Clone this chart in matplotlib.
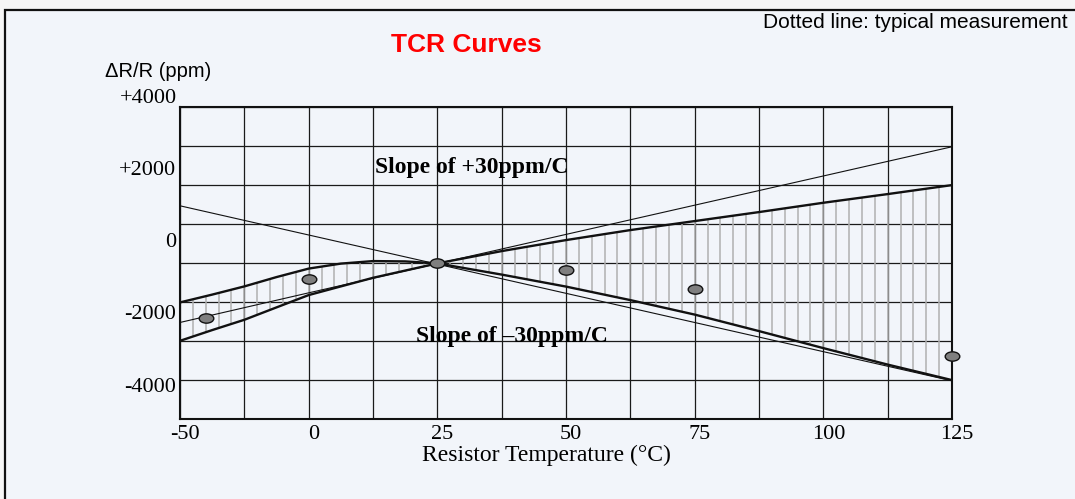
import numpy as np
import matplotlib
matplotlib.use("Agg")
import matplotlib.pyplot as plt
from matplotlib.path import Path
from matplotlib.transforms import Affine2D, ScaledTranslation
from matplotlib.patches import Rectangle

# ---------------- data ----------------
temps = [-50, -37.5, -25, -12.5, 0, 6.25, 12.5, 18.75, 25, 37.5, 50, 62.5,
         75, 87.5, 100, 112.5, 125]
curve_a = [-1725, -1509, -1282, -1024, -789, -651, -581, -590, -645, -955,
           -1287, -1661, -2062, -2519, -2990, -3446, -3875]
curve_b = [-2788, -2491, -2206, -1863, -1522, -1282, -1044, -844, -645, -305,
           0, 277, 526, 775, 1033, 1273, 1522]

slope_t = [-50, 0, 125]
slope_pos = [-2280, -1460, 2583]
slope_neg = [949, 141, -3895]

meas_t = [-40, 0, 25, 50, 75, 125]
meas_ppm = [-2150, -1088, -645, -830, -1366, -3202]

xtick_vals = [-50, 0, 25, 50, 75, 100, 125]
ytick_vals = [2000, 0, -2000, -4000]
ytick_labels = ["+2000", "0", "-2000", "-4000"]
top_label_val = 4000
top_label = "+4000"

# ---------------- axis scale (piecewise linear temperature axis) ----------------
def fwd(t):
    t = np.asarray(t, dtype=float)
    return np.where(t < 0, (t + 50) / 25.0, 2 + t / 12.5)

def inv(p):
    p = np.asarray(p, dtype=float)
    return np.where(p < 2, p * 25.0 - 50, (p - 2) * 12.5)

W, H = 1075, 499
BG = "#f2f5fa"
fig = plt.figure(figsize=(W / 100, H / 100), dpi=100)
fig.patch.set_facecolor("#f6f6f6")
frame = Rectangle((5 / W, -0.02), 1.05, 1 - 10 / H + 0.02, transform=fig.transFigure,
                  facecolor=BG, edgecolor="#111111", linewidth=1.6, zorder=-5)
fig.add_artist(frame)

L, R, B, T = 180, 952, 419.3, 107.3
ax = fig.add_axes([L / W, 1 - B / H, (R - L) / W, (B - T) / H])
ax.set_facecolor(BG)
ax.set_xscale("function", functions=(fwd, inv))
ax.set_xlim(-50, 125)
ax.set_ylim(-4960, 3675)

SERIF = "Liberation Serif"
SANS = "Liberation Sans"

# grid: 12 columns x 8 rows
ax.xaxis.remove_overlapping_locs = False
ax.yaxis.remove_overlapping_locs = False
ax.set_xticks(inv(np.arange(13)), minor=True)
ax.set_yticks(np.linspace(-4960, 3675, 9), minor=True)
ax.grid(which="minor", color="#1a1a1a", linewidth=0.9)
ax.grid(which="major", visible=False)
ax.tick_params(which="both", length=0)
ax.set_axisbelow(True)

ax.set_xticks(xtick_vals)
ax.set_xticklabels([str(v) for v in xtick_vals], fontfamily=SERIF, fontsize=16)
ax.set_yticks(ytick_vals)
ax.set_yticklabels(ytick_labels, fontfamily=SERIF, fontsize=16)
ax.tick_params(axis="x", pad=3.8)
ax.tick_params(axis="y", pad=3)
off = ScaledTranslation(5 / 100, 0, fig.dpi_scale_trans)
for lab in ax.get_xticklabels():
    lab.set_transform(lab.get_transform() + off)
ax.annotate(top_label, xy=(0, top_label_val), xycoords=("axes fraction", "data"),
            xytext=(-3 * 72 / 100, 0), textcoords="offset points",
            ha="right", va="center_baseline", fontfamily=SERIF, fontsize=16,
            annotation_clip=False)

for s in ax.spines.values():
    s.set_linewidth(1.5)
    s.set_color("#111111")

# hatching between the two curves
pa = fwd(temps)
hpos = np.arange(1, 60) * 0.2
ht = inv(hpos)
ya = np.interp(hpos, pa, curve_a)
yb = np.interp(hpos, pa, curve_b)
ax.vlines(ht, np.minimum(ya, yb), np.maximum(ya, yb), colors="#b0b0b0", linewidth=1.1, zorder=2)

# curves
ax.plot(temps, curve_a, color="#111111", linewidth=1.7, zorder=3)
ax.plot(temps, curve_b, color="#111111", linewidth=1.7, zorder=3)
ax.plot(slope_t, slope_pos, color="#111111", linewidth=0.8, zorder=3)
ax.plot(slope_t, slope_neg, color="#111111", linewidth=0.8, zorder=3)

# measured points (ellipses)
ell = Path.unit_circle().transformed(Affine2D().scale(1.0, 0.64))
ax.plot(meas_t, meas_ppm, linestyle="none", marker=ell, markersize=10.5,
        markerfacecolor="#7f7f7f", markeredgecolor="#111111", markeredgewidth=1.0,
        zorder=5, clip_on=False)

# texts
def ftxt(x, y, s, **kw):
    fig.text(x / W, 1 - y / H, s, **kw)

ftxt(466.5, 45, "TCR Curves", ha="center", va="center", color="#ff0000",
     fontweight="bold", fontfamily=SANS, fontsize=19)
ftxt(1068, 22.7, "Dotted line: typical measurement", ha="right", va="center",
     fontfamily=SANS, fontsize=15)
ftxt(158, 71.7, "\u0394R/R (ppm)", ha="center", va="center", fontfamily=SANS, fontsize=14.5)
ftxt(374.8, 168, "Slope of +30ppm/C", ha="left", va="center", fontweight="bold",
     fontfamily=SERIF, fontsize=17)
ftxt(415.5, 336.3, "Slope of \u201330ppm/C", ha="left", va="center", fontweight="bold",
     fontfamily=SERIF, fontsize=17)
ftxt(546, 455.7, "Resistor Temperature (\u00b0C)", ha="center", va="center",
     fontfamily=SERIF, fontsize=17)

fig.savefig("out.png", dpi=100, facecolor=fig.get_facecolor())
